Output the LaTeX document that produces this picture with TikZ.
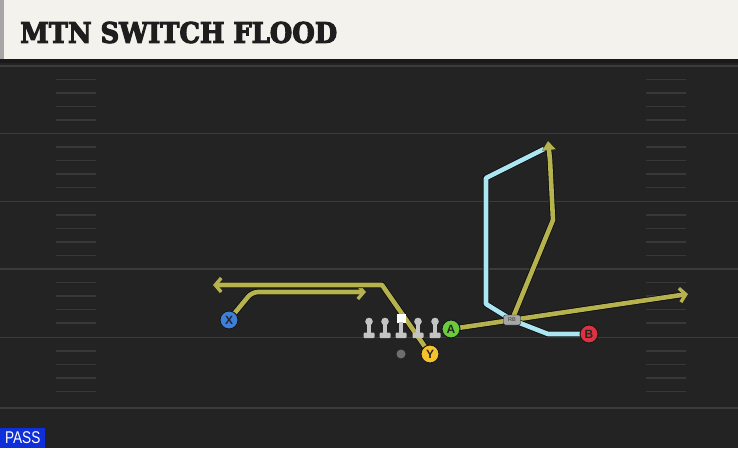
\documentclass[tikz,border=0pt]{standalone}
\usepackage{fontspec}
\usepackage{graphicx}
\usetikzlibrary{arrows.meta}
\newfontface\titlefont[FakeBold=4]{DejaVu Serif Bold}
\newfontfamily\labelfont{Liberation Sans}
\definecolor{fieldbg}{HTML}{232323}
\definecolor{yardgray}{HTML}{3B3B3B}
\definecolor{hashgray}{HTML}{383838}
\definecolor{barcream}{HTML}{F4F2EC}
\definecolor{titleink}{HTML}{1E1E1E}
\definecolor{routegold}{HTML}{B6B34F}
\definecolor{routecyan}{HTML}{ABE6F2}
\definecolor{xblue}{HTML}{3E7FD9}
\definecolor{yyellow}{HTML}{F3C22C}
\definecolor{agreen}{HTML}{6ACB3C}
\definecolor{bred}{HTML}{DD3340}
\definecolor{linegray}{HTML}{C4C4C4}
\definecolor{qbgray}{HTML}{6E6E6E}
\definecolor{passblue}{HTML}{0F2FD9}
\pgfdeclarelayer{field}
\pgfdeclarelayer{routes}
\pgfsetlayers{field,routes,main}

\begin{document}
\begin{tikzpicture}[
  x=1pt, y=-1pt,
  player/.style={circle, draw=black!90, line width=1pt, minimum size=18pt, inner sep=0pt, font=\labelfont\bfseries\fontsize{12}{12}\selectfont, text=black!85},
  wrX/.style={player, fill=xblue},
  wrY/.style={player, fill=yyellow},
  wrA/.style={player, fill=agreen},
  wrB/.style={player, fill=bred},
  back/.style={draw=black!90, fill=black!35, rounded corners=2pt, minimum width=17pt, minimum height=10pt, inner sep=0pt, font=\labelfont\fontsize{5.5}{5.5}\selectfont, text=black!80},
  qb/.style={circle, fill=qbgray, minimum size=9pt, inner sep=0pt},
  route/.style={line width=4.6pt, line join=round, draw=routegold, preaction={draw=black!95, line width=6.2pt}},
  cutroute/.style={route, draw=routecyan},
  yardline/.style={draw=yardgray, line width=1.8pt},
  hash/.style={draw=hashgray, line width=1.4pt},
  >={Straight Barb[length=6pt, width=14pt, line width=3.4pt]}
]
  \useasboundingbox (0,0) rectangle (738,448);
  % field and title bar
  \begin{pgfonlayer}{field}
    \fill[fieldbg] (0,0) rectangle (738,448);
    \foreach \y in {66,133.5,201.5,269,337.5,408}
      \draw[yardline] (0,\y) -- (738,\y);
    \foreach \t in {66,133.5,201.5,269,337.5}
      \foreach \k in {1,...,4} {
        \draw[hash] (56,\t+13.5*\k) -- (96,\t+13.5*\k);
        \draw[hash] (646,\t+13.5*\k) -- (686,\t+13.5*\k);
      }
    \fill[black!90] (0,59) rectangle (738,62.5);
    \fill[barcream] (0,0) rectangle (738,59);
    \fill[black!35] (0,0) rectangle (4,59);
  \end{pgfonlayer}
  \node[anchor=west, inner sep=0pt, text=titleink] (title) at (20,32.5)
    {\resizebox{317pt}{21pt}{\titlefont MTN SWITCH FLOOD}};

  % players
  \node[wrX] (X) at (229,320) {X};
  \node[wrY] (Y) at (430,354) {Y};
  \node[wrA] (A) at (451,329) {A};
  \node[wrB] (B) at (589,334) {B};
  \node[qb] (QB) at (401,354) {};

  % routes
  \begin{pgfonlayer}{routes}
    \draw[route, ->, rounded corners=6pt] (X.center) -- (252,292) -- (366,292);
    \draw[route, ->] (Y.center) -- (382,285) -- (213,285);
    \draw[route, ->] (A.center) -- (688,294);
    \draw[cutroute] (B.center) -- (548,334) -- (512,320) -- (486,304) -- (486,178) -- (544,149);
    \draw[route, -{Triangle[length=9pt, width=13pt]}] (512,320) -- (553,220) -- (550,160) -- (548,141);
  \end{pgfonlayer}
  \node[back] (RB) at (512,320) {RB};

  % offensive line
  \foreach \x/\n in {369/lt,385/lg,418/rg,435/rt} {
    \coordinate (\n) at (\x,330);
    \fill[linegray] (\x,321.5) circle (3.8pt);
    \fill[linegray] (\x-2,322) rectangle (\x+2,334);
    \fill[linegray, rounded corners=1pt] (\x-5.5,332.5) rectangle (\x+5.5,338);
  }
  \coordinate (ctr) at (401,330);
  \fill[white] (396.5,314) rectangle (405.5,323);
  \fill[linegray] (399,322) rectangle (403,334);
  \fill[linegray, rounded corners=1pt] (395.5,332.5) rectangle (406.5,338);

  % play type
  \node[fill=passblue, text=white, anchor=south west, minimum width=45pt, minimum height=20pt, inner sep=0pt] (pass) at (0,448)
    {\labelfont\fontsize{17}{17}\selectfont\scalebox{0.8}[1]{PASS}};
\end{tikzpicture}
\end{document}
